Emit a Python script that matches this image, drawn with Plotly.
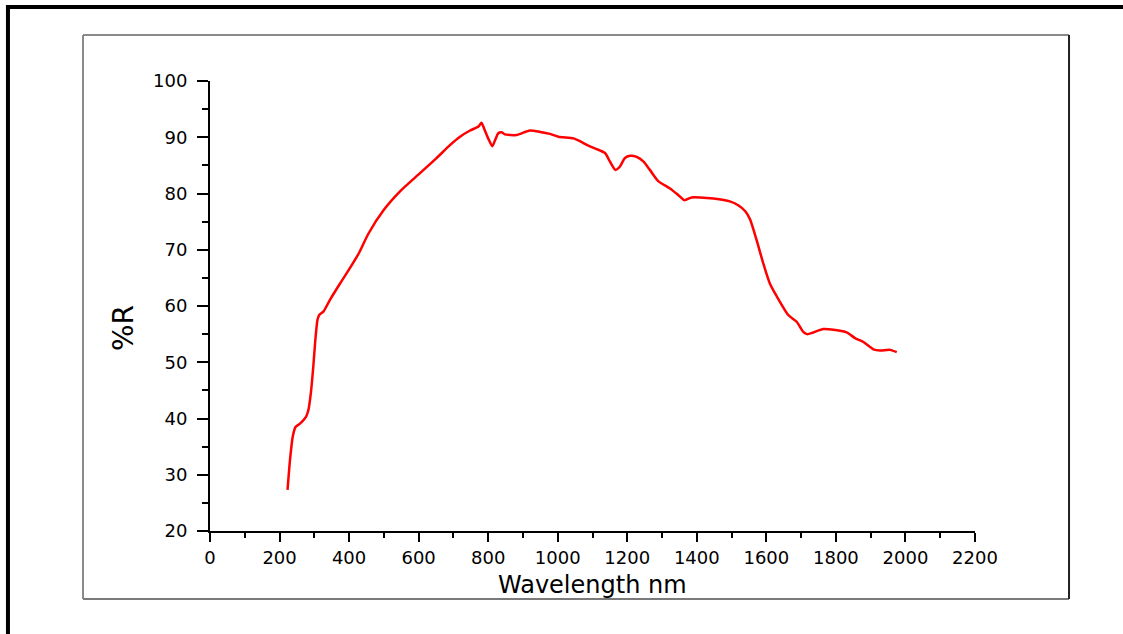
import plotly.graph_objects as go

wavelength_nm = [223, 230, 238, 246, 259, 276, 283, 290, 297, 303, 309, 314, 326, 345, 374, 405,
                 430, 455, 500, 550, 600, 650, 690, 719, 748, 772, 781, 786, 800, 812, 820, 829, 839,
                 848, 863, 882, 896, 920, 953, 978, 1002, 1045, 1064, 1088, 1112, 1136, 1150,
                 1166, 1179, 1193, 1208, 1227, 1246, 1265, 1289, 1323, 1347, 1364, 1385, 1409,
                 1448, 1495, 1519, 1540, 1553, 1572, 1591, 1610, 1630, 1663, 1687, 1706, 1717,
                 1735, 1764, 1812, 1831, 1855, 1879, 1908, 1927, 1956, 1975]
reflectance = [27.3, 32.6, 36.8, 38.5, 39.1, 40.3, 41.5, 44.5, 49.2, 54.0, 57.5, 58.4, 59.0, 61.1, 64.0, 67.0,
               69.6, 72.8, 77.1, 80.6, 83.4, 86.2, 88.6, 90.1, 91.2, 91.9, 92.6, 91.9, 89.8, 88.4, 89.5, 90.7, 90.9,
               90.5, 90.4, 90.4, 90.7, 91.2, 90.9, 90.6, 90.1, 89.8, 89.3, 88.5, 87.9, 87.2, 85.7,
               84.2, 84.8, 86.3, 86.7, 86.5, 85.7, 84.2, 82.2, 80.9, 79.7, 78.8, 79.3, 79.3,
               79.1, 78.6, 77.9, 76.8, 75.4, 71.7, 67.6, 64.0, 61.7, 58.4, 57.2, 55.4, 55.0,
               55.3, 55.9, 55.6, 55.3, 54.3, 53.6, 52.3, 52.1, 52.2, 51.8]

x_ticks = [0, 200, 400, 600, 800, 1000, 1200, 1400, 1600, 1800, 2000, 2200]
y_ticks = [20, 30, 40, 50, 60, 70, 80, 90, 100]

FONT = "DejaVu Sans"

fig = go.Figure()
fig.add_trace(go.Scatter(x=wavelength_nm, y=reflectance, mode="lines",
                         line=dict(color="#ff0000", width=2.5, shape="spline", smoothing=0.6),
                         showlegend=False, hoverinfo="x+y"))

axis_common = dict(showline=True, linecolor="black", linewidth=2, showgrid=False, zeroline=False,
                   ticks="outside", tickcolor="black", tickwidth=2, mirror=False,
                   tickfont=dict(family=FONT, size=18, color="black"))

fig.update_xaxes(range=[0, 2200], tickvals=x_ticks, ticklen=9,
                 minor=dict(ticks="outside", dtick=100, ticklen=5, tickcolor="black", tickwidth=2),
                 **axis_common)
fig.update_yaxes(range=[20, 100], tickvals=y_ticks, ticklen=11, ticklabelstandoff=6,
                 minor=dict(ticks="outside", dtick=5, ticklen=6, tickcolor="black", tickwidth=2),
                 **axis_common)

fig.add_annotation(text="Wavelength nm", xref="paper", yref="paper", x=0.5, y=-0.12,
                   xanchor="center", yanchor="middle", showarrow=False,
                   font=dict(family=FONT, size=24, color="black"))
fig.add_annotation(text="%R", xref="paper", yref="paper", x=-0.1137, y=0.451,
                   xanchor="center", yanchor="middle", showarrow=False, textangle=-90,
                   font=dict(family=FONT, size=28, color="black"))

# inner frame
fig.add_shape(type="line", xref="paper", yref="paper", x0=-0.166, x1=1.1229, y0=1.1022, y1=1.1022,
              line=dict(color="#8a8a8a", width=2))
fig.add_shape(type="line", xref="paper", yref="paper", x0=-0.166, x1=-0.166, y0=-0.1511, y1=1.1022,
              line=dict(color="#8a8a8a", width=2))
fig.add_shape(type="line", xref="paper", yref="paper", x0=-0.166, x1=1.1229, y0=-0.1511, y1=-0.1511,
              line=dict(color="#7a7a7a", width=2))
fig.add_shape(type="line", xref="paper", yref="paper", x0=1.1229, x1=1.1229, y0=-0.1511, y1=1.1022,
              line=dict(color="#222222", width=2))
# outer frame
fig.add_shape(type="line", xref="paper", yref="paper", x0=-0.2667, x1=1.2, y0=1.1644, y1=1.1644,
              line=dict(color="black", width=4))
fig.add_shape(type="line", xref="paper", yref="paper", x0=-0.2641, x1=-0.2641, y0=-0.25, y1=1.1667,
              line=dict(color="black", width=4))

fig.update_layout(width=1123, height=634, margin=dict(l=210, r=148, t=81, b=103),
                  paper_bgcolor="white", plot_bgcolor="white",
                  font=dict(family=FONT, color="black"))

fig.write_html("out.html")
